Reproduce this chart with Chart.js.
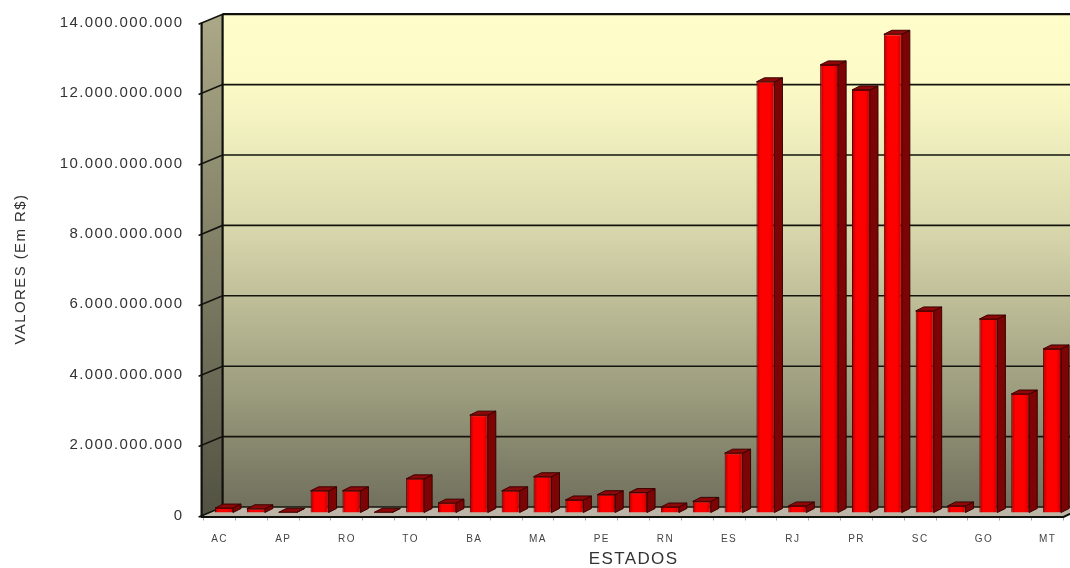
<!DOCTYPE html>
<html lang="pt">
<head>
<meta charset="UTF-8">
<title>Valores por estado</title>
<script src="https://cdn.jsdelivr.net/npm/chart.js"></script>
<style>
    html, body { margin: 0; padding: 0; background: #fff; }
    #box { width: 1070px; height: 568px; }
</style>
</head>
<body>
<div id="box"><canvas id="grafico"></canvas></div>
<script>
    // only every second state is labelled in the picture
    const estados = ['AC','','AP','','RO','','TO','','BA','','MA','','PE','','RN','','ES','','RJ','','PR','','SC','','GO','','MT'];
    const valores = [
        140000000, 120000000, 20000000, 630000000, 630000000, 20000000, 970000000, 280000000, 2780000000,
        630000000, 1030000000, 370000000, 520000000, 580000000, 170000000, 330000000, 1700000000, 12250000000,
        200000000, 12730000000, 12020000000, 13600000000, 5740000000, 200000000, 5510000000, 3380000000, 4660000000
    ];
    const tituloX = 'ESTADOS';
    const tituloY = 'VALORES (Em R$)';

    const fundo3d = {
        id: 'fundo3d',
        beforeDraw(chart) {
            // the text in the picture is wider than any installed font
            chart.ctx.letterSpacing = '1.4px';
        },
        beforeDatasetsDraw(chart) {
            const ctx = chart.ctx, a = chart.chartArea, y = chart.scales.y;
            const left = a.left - 2, dx = 21, dy = -8.5;
            const yTop = y.getPixelForValue(14000000000), y0 = y.getPixelForValue(0);
            ctx.save();

            // back wall
            let g = ctx.createLinearGradient(0, yTop + dy, 0, y0 + dy);
            g.addColorStop(0, '#fffecb');
            g.addColorStop(0.14, '#fcfbc7');
            g.addColorStop(0.43, '#d9d8ad');
            g.addColorStop(0.72, '#a5a585');
            g.addColorStop(1, '#70705d');
            ctx.fillStyle = g;
            ctx.fillRect(left + dx, yTop + dy, a.right - a.left, y0 - yTop);

            // left wall
            g = ctx.createLinearGradient(0, yTop, 0, y0);
            g.addColorStop(0, '#a9a785');
            g.addColorStop(1, '#525243');
            ctx.fillStyle = g;
            ctx.beginPath();
            ctx.moveTo(left, yTop);
            ctx.lineTo(left + dx, yTop + dy);
            ctx.lineTo(left + dx, y0 + dy);
            ctx.lineTo(left, y0 + 1.5);
            ctx.closePath();
            ctx.fill();

            // floor
            ctx.fillStyle = '#bdb5a5';
            ctx.beginPath();
            ctx.moveTo(left, y0 + 1.5);
            ctx.lineTo(left + dx, y0 + dy);
            ctx.lineTo(a.right + dx, y0 + dy);
            ctx.lineTo(a.right, y0 + 1.5);
            ctx.closePath();
            ctx.fill();

            // grid lines along the wall and the back
            ctx.strokeStyle = '#14140e';
            ctx.lineWidth = 1.6;
            y.ticks.forEach(t => {
                const py = y.getPixelForValue(t.value);
                ctx.beginPath();
                ctx.moveTo(left - 3, py + 1.5);
                ctx.lineTo(left + dx, py + dy);
                ctx.lineTo(a.right + dx, py + dy);
                ctx.stroke();
            });

            // wall outline and front axis
            ctx.lineWidth = 2.2;
            ctx.strokeStyle = '#10100c';
            ctx.beginPath();
            ctx.moveTo(left + dx, yTop + dy);
            ctx.lineTo(left + dx, y0 + dy);
            ctx.moveTo(left, yTop);
            ctx.lineTo(left, y0 + 1.5);
            ctx.lineTo(a.right, y0 + 1.5);
            ctx.lineTo(a.right + dx, y0 + dy);
            ctx.moveTo(left + dx, yTop + dy);
            ctx.lineTo(a.right + dx, yTop + dy);
            ctx.stroke();

            // bars sit slightly inside the floor
            ctx.translate(4.5, -2.5);
            const bx = 8, by = -4;
            chart.getDatasetMeta(0).data.forEach(b => {
                const w = b.width / 2, r = b.x + w, l = b.x - w;
                ctx.lineWidth = 1;
                ctx.strokeStyle = '#3a0000';
                ctx.fillStyle = '#7c0404';
                ctx.beginPath();
                ctx.moveTo(r, b.y);
                ctx.lineTo(r + bx, b.y + by);
                ctx.lineTo(r + bx, b.base + by);
                ctx.lineTo(r, b.base);
                ctx.closePath();
                ctx.fill();
                ctx.stroke();
                ctx.fillStyle = '#8e0808';
                ctx.beginPath();
                ctx.moveTo(l, b.y);
                ctx.lineTo(l + bx, b.y + by);
                ctx.lineTo(r + bx, b.y + by);
                ctx.lineTo(r, b.y);
                ctx.closePath();
                ctx.fill();
                ctx.stroke();
            });
        },
        afterDatasetsDraw(chart) {
            chart.ctx.restore();
        }
    };

    // darker at the edges of each bar, bright in the middle
    function corBarra(c) {
        const sx = c.chart.scales.x;
        const px = sx ? sx.getPixelForValue(c.dataIndex) : NaN;
        if (!Number.isFinite(px)) return '#ff0000';
        const g = c.chart.ctx.createLinearGradient(px - 9, 0, px + 9, 0);
        g.addColorStop(0, '#a60000');
        g.addColorStop(0.22, '#ff0000');
        g.addColorStop(0.72, '#ff0000');
        g.addColorStop(1, '#c40000');
        return g;
    }

    new Chart(document.getElementById('grafico'), {
        type: 'bar',
        data: {
            labels: estados,
            datasets: [{
                data: valores,
                backgroundColor: corBarra,
                borderColor: '#5c0000',
                borderWidth: 1,
                barPercentage: 0.565,
                categoryPercentage: 1
            }]
        },
        plugins: [fundo3d],
        options: {
            responsive: true,
            maintainAspectRatio: false,
            animation: false,
            layout: { padding: { top: 22.7, right: 6.5, left: 0, bottom: 0 } },
            plugins: { legend: { display: false }, tooltip: { enabled: false } },
            scales: {
                x: {
                    afterFit: s => { s.height = 52.5; },
                    border: { display: false },
                    grid: { offset: true, drawOnChartArea: false, tickColor: '#aaa', tickLength: 5 },
                    ticks: {
                        autoSkip: false, maxRotation: 0, minRotation: 0, padding: 13,
                        color: '#444', font: { family: 'Liberation Sans', size: 10 }
                    },
                    title: {
                        display: true, text: tituloX, color: '#333',
                        font: { family: 'Liberation Sans', size: 17 }, padding: { top: 2, bottom: -2 }
                    }
                },
                y: {
                    min: 0,
                    max: 14000000000,
                    afterFit: s => { s.width = 203.6; s.paddingTop = 0; s.paddingBottom = 0; },
                    border: { display: false },
                    grid: { drawOnChartArea: false, drawTicks: false },
                    ticks: {
                        stepSize: 2000000000, padding: 20, color: '#333',
                        font: { family: 'Liberation Sans', size: 15 },
                        callback: v => String(v).replace(/\B(?=(\d{3})+(?!\d))/g, '.')
                    },
                    title: {
                        display: true, text: tituloY, color: '#333',
                        font: { family: 'Liberation Sans', size: 15 }, padding: { top: 12, bottom: 0 }
                    }
                }
            }
        }
    });
</script>
</body>
</html>
